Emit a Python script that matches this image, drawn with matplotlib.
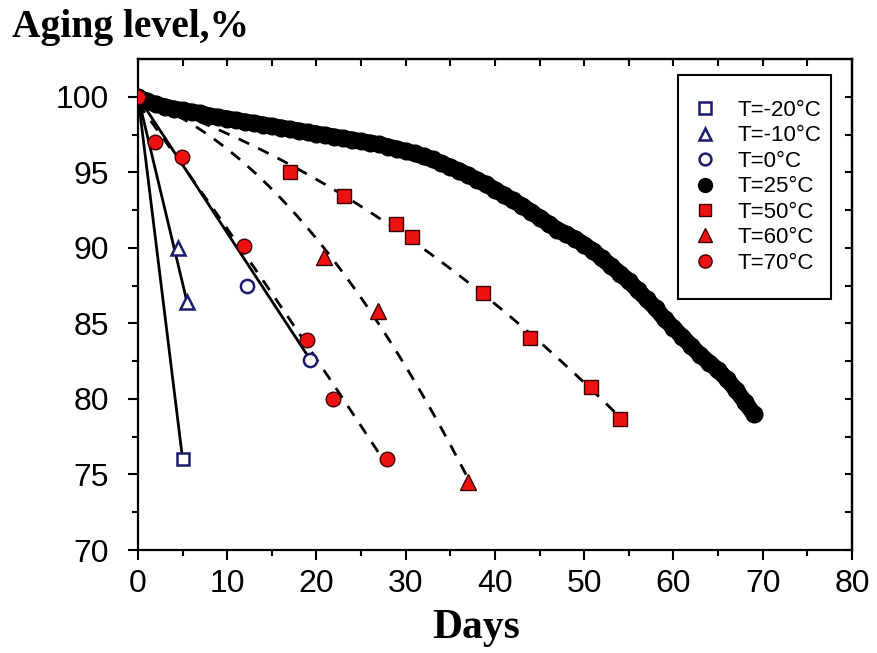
import numpy as np
import matplotlib
matplotlib.use("Agg")
import matplotlib.pyplot as plt
from matplotlib.lines import Line2D
from matplotlib.patches import Rectangle

# ---- data: days of storage vs. remaining capacity (%) ----
days_m20 = [0, 5.0]
level_m20 = [100, 76.0]

days_m10 = [0, 4.5, 5.5]
level_m10 = [100, 90.0, 86.4]

days_0 = [0, 12.2, 19.3]
level_0 = [100, 87.5, 82.6]

days_25 = list(range(70))
level_25 = [100.0, 99.7, 99.5, 99.35, 99.2, 99.1, 99.0, 98.9, 98.75, 98.65,
            98.55, 98.45, 98.35, 98.25, 98.15, 98.05, 97.95, 97.85, 97.75, 97.65,
            97.55, 97.45, 97.35, 97.25, 97.15, 97.05, 96.95, 96.85, 96.7, 96.55,
            96.4, 96.25, 96.05, 95.85, 95.6, 95.35, 95.1, 94.8, 94.5, 94.2,
            93.85, 93.5, 93.15, 92.8, 92.4, 92.0, 91.6, 91.2, 90.9, 90.6,
            90.2, 89.8, 89.3, 88.8, 88.3, 87.8, 87.2, 86.6, 86.0, 85.3,
            84.7, 84.1, 83.5, 82.9, 82.4, 81.9, 81.3, 80.6, 79.8, 79.0]

days_50 = [0, 17.0, 23.1, 28.9, 30.7, 38.7, 43.9, 50.8, 54.0]
level_50 = [100, 95.0, 93.4, 91.6, 90.7, 87.0, 84.0, 80.8, 78.7]

days_60 = [0, 20.8, 26.9, 37.0]
level_60 = [100, 89.4, 85.8, 74.5]

days_70 = [0, 1.9, 4.9, 11.9, 18.9, 21.8, 27.9]
level_70 = [100, 97.0, 96.0, 90.1, 83.9, 80.0, 76.0]

labels = ["T=-20°C", "T=-10°C", "T=0°C", "T=25°C", "T=50°C", "T=60°C", "T=70°C"]

NAVY = "#1b1b6e"
RED = "#ee1111"
SANS = "Liberation Sans"
SERIF = "Liberation Serif"

fig = plt.figure(figsize=(8.78, 6.53), dpi=100)
ax = fig.add_axes([138 / 878, 103 / 653, 714 / 878, 491 / 653])

# solid straight lines for the low temperatures
for d, a in [(days_m20, level_m20), (days_m10, level_m10), (days_0, level_0)]:
    ax.plot([d[0], d[-1]], [a[0], a[-1]], color="black", lw=2.0, zorder=2)

# dashed quadratic trend curves for the high temperatures
for d, a in [(days_50, level_50), (days_60, level_60), (days_70, level_70)]:
    coef = np.polyfit(d, a, 2)
    xs = np.linspace(0, d[-1], 200)
    ax.plot(xs, np.polyval(coef, xs), color="black", lw=2.0,
            dashes=(4.2, 3.6), zorder=2)

open_kw = dict(ls="none", mfc="white", mec=NAVY, mew=1.8, zorder=4)
ax.plot(days_m20[1:], level_m20[1:], marker="s", ms=9, **open_kw)
ax.plot(days_m10[1:], level_m10[1:], marker="^", ms=10, **open_kw)
ax.plot(days_0[1:], level_0[1:], marker="o", ms=9.5, **open_kw)

# 25 °C: dense filled circles forming a thick band
ax.plot(days_25, level_25, color="black", lw=11.8, solid_capstyle="round",
        solid_joinstyle="round", zorder=3)
ax.plot(days_25, level_25, ls="none", marker="o", ms=12, color="black", zorder=3)

red_kw = dict(ls="none", mfc=RED, mec="#3a0000", mew=1.0, zorder=5)
ax.plot(days_50[1:], level_50[1:], marker="s", ms=10, **red_kw)
ax.plot(days_60[1:], level_60[1:], marker="^", ms=11.5, **red_kw)
ax.plot(days_70, level_70, marker="o", ms=10.5, **red_kw)

ax.set_xlim(0, 80)
ax.set_ylim(70, 102.5)
ax.set_xticks(range(0, 81, 10))
ax.set_xticks(range(5, 80, 10), minor=True)
ax.set_yticks(range(70, 101, 5))
ax.set_yticks(np.arange(72.5, 102, 5), minor=True)

for s in ax.spines.values():
    s.set_linewidth(1.6)

ax.tick_params(which="major", direction="out", length=7, width=1.5, labelsize=23)
ax.tick_params(axis="x", which="major", pad=7)
ax.tick_params(axis="y", which="major", pad=14)
ax.tick_params(which="minor", direction="out", length=4, width=1.5)
for lab in ax.get_xticklabels() + ax.get_yticklabels():
    lab.set_fontfamily(SANS)

top = ax.secondary_xaxis("top")
top.set_xticks(range(0, 81, 10))
top.set_xticks(range(5, 80, 10), minor=True)
top.tick_params(which="both", direction="in", length=5, width=1.5, labeltop=False)
top.spines["top"].set_linewidth(1.6)
right = ax.secondary_yaxis("right")
right.set_yticks(range(70, 101, 5))
right.set_yticks(np.arange(72.5, 102, 5), minor=True)
right.tick_params(which="both", direction="in", length=5, width=1.5, labelright=False)
right.spines["right"].set_linewidth(1.6)

# legend with a separately drawn frame
handles = [
    Line2D([], [], ls="none", marker="s", ms=8, mfc="white", mec=NAVY, mew=1.8),
    Line2D([], [], ls="none", marker="^", ms=9, mfc="white", mec=NAVY, mew=1.8),
    Line2D([], [], ls="none", marker="o", ms=8.5, mfc="white", mec=NAVY, mew=1.8),
    Line2D([], [], ls="none", marker="o", ms=10, color="black"),
    Line2D([], [], ls="none", marker="s", ms=9, mfc=RED, mec="#3a0000", mew=1.0),
    Line2D([], [], ls="none", marker="^", ms=10, mfc=RED, mec="#3a0000", mew=1.0),
    Line2D([], [], ls="none", marker="o", ms=9.5, mfc=RED, mec="#3a0000", mew=1.0),
]
ax.add_patch(Rectangle(((678 - 138) / 714, (550 - 299) / 491),
                       (831 - 678) / 714, (299 - 75) / 491,
                       transform=ax.transAxes, fill=True, fc="white",
                       ec="black", lw=1.5, zorder=6))
leg = ax.legend(handles, labels, loc="upper left",
                bbox_to_anchor=((694 - 138) / 714, (550 - 100) / 491),
                frameon=False, borderpad=0, borderaxespad=0,
                handlelength=1.0, handletextpad=0.95, labelspacing=0.2,
                prop={"family": SANS, "size": 16})
leg.set_zorder(7)

fig.text(12 / 878, 1 - 37 / 653, "Aging level,%", family=SERIF,
         weight="bold", size=28.5, va="baseline", ha="left")
fig.text(476 / 878, 1 - 638 / 653, "Days", family=SERIF,
         weight="bold", size=30, va="baseline", ha="center")

fig.savefig("out.png", dpi=100)
